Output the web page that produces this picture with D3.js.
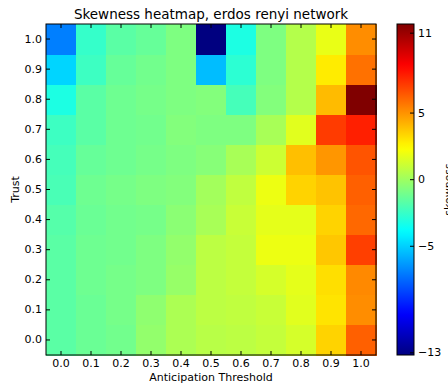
<!DOCTYPE html>
<html>
<head>
<meta charset="utf-8">
<script src="https://cdn.jsdelivr.net/npm/d3@7"></script>
<style>
  body { margin: 0; background: #fff; }
  text { font-family: "DejaVu Sans", sans-serif; }
</style>
</head>
<body>
<div id="chart"></div>
<script>
// ============================
// Data
// ============================

const thresholds = [0.0, 0.1, 0.2, 0.3, 0.4, 0.5, 0.6, 0.7, 0.8, 0.9, 1.0];
const trusts = [0.0, 0.1, 0.2, 0.3, 0.4, 0.5, 0.6, 0.7, 0.8, 0.9, 1.0];

// skewness, one row per trust value (row 0 = trust 0.0), columns = thresholds
const skew = [
  [-1.7, -1.3, -1.1, -0.3,  0.3,  0.6,  0.7,  0.9,  1.3,  3.4,  6.2],
  [-1.7, -1.3, -1.0, -0.4,  0.3,  0.7,  0.8,  1.0,  1.6,  3.0,  5.1],
  [-1.7, -1.2, -1.0, -0.8, -0.2,  0.7,  0.9,  1.3,  1.7,  3.1,  5.2],
  [-1.7, -1.2, -1.1, -0.8, -0.3,  0.7,  0.9,  1.9,  1.9,  3.7,  7.0],
  [-1.8, -1.3, -1.1, -1.0, -0.5,  0.2,  1.0,  1.7,  1.7,  3.4,  6.0],
  [-2.1, -1.2, -1.0, -0.8, -0.7,  0.1,  0.8,  1.9,  3.4,  3.8,  6.2],
  [-2.2, -1.4, -1.2, -1.0, -0.8, -0.6,  0.2,  1.1,  3.9,  4.9,  6.5],
  [-2.4, -1.7, -1.2, -1.1, -0.7, -0.8, -0.8,  0.2,  1.6,  7.1,  7.8],
  [-3.2, -1.7, -1.2, -1.0, -0.8, -0.7, -2.2, -0.7,  0.5,  4.0, 11.65],
  [-4.9, -2.4, -1.4, -1.1, -0.8, -5.5, -2.8, -0.8,  0.5,  2.8,  5.8],
  [-7.0, -2.6, -1.7, -1.4, -0.8, -13.2, -3.2, -0.8, 0.5,  1.8,  5.1]
];

const cbarTicks = [-13, -5, 0, 5, 11];

// ============================
// Setup
// ============================

const width = 448, height = 385;
const margin = {top: 24, left: 46};
const plotW = 330, plotH = 331;

const svg = d3.select("#chart").append("svg")
  .attr("width", width).attr("height", height);

// matplotlib "jet"
function jet(t) {
  const c = (x) => Math.max(0, Math.min(1, x));
  const r = c(Math.min(4 * t - 1.5, -4 * t + 4.5));
  const g = c(Math.min(4 * t - 0.5, -4 * t + 3.5));
  const b = c(Math.min(4 * t + 0.5, -4 * t + 2.5));
  return d3.rgb(r * 255, g * 255, b * 255).toString();
}

const vmin = d3.min(skew.flat()), vmax = d3.max(skew.flat());
const norm = d3.scaleLinear().domain([vmin, vmax]).range([0, 1]).clamp(true);
const color = (v) => jet(norm(v));

const xscale = d3.scaleBand().domain(thresholds).range([margin.left, margin.left + plotW]);
const yscale = d3.scaleBand().domain(trusts).range([margin.top + plotH, margin.top]);

const cells = [];
skew.forEach((row, i) => row.forEach((v, j) => cells.push({x: thresholds[j], y: trusts[i], v: v})));

svg.append("g")
  .selectAll("rect")
  .data(cells)
  .join("rect")
  .attr("x", d => xscale(d.x))
  .attr("y", d => yscale(d.y))
  .attr("width", xscale.bandwidth() + 0.5)
  .attr("height", yscale.bandwidth() + 0.5)
  .attr("shape-rendering", "crispEdges")
  .attr("fill", d => color(d.v));

// frame
svg.append("rect")
  .attr("x", margin.left).attr("y", margin.top)
  .attr("width", plotW).attr("height", plotH)
  .attr("fill", "none").attr("stroke", "#000").attr("stroke-width", 1);

const fmt = d3.format(".1f");

// axes, ticks pointing inward
svg.append("g")
  .attr("transform", `translate(0,${margin.top + plotH})`)
  .call(d3.axisBottom(xscale).tickFormat(fmt).tickSizeInner(-4).tickSizeOuter(0).tickPadding(4))
  .call(g => g.select(".domain").remove());
svg.append("g")
  .attr("transform", `translate(0,${margin.top})`)
  .call(d3.axisTop(xscale).tickFormat("").tickSizeInner(-4).tickSizeOuter(0))
  .call(g => g.select(".domain").remove());
svg.append("g")
  .attr("transform", `translate(${margin.left},0)`)
  .call(d3.axisLeft(yscale).tickFormat(fmt).tickSizeInner(-4).tickSizeOuter(0).tickPadding(4))
  .call(g => g.select(".domain").remove());
svg.append("g")
  .attr("transform", `translate(${margin.left + plotW},0)`)
  .call(d3.axisRight(yscale).tickFormat("").tickSizeInner(-4).tickSizeOuter(0))
  .call(g => g.select(".domain").remove());

svg.selectAll(".tick text").attr("font-size", 11).attr("fill", "#000")
  .attr("font-family", "DejaVu Sans, sans-serif");

// labels
svg.append("text")
  .attr("x", margin.left + plotW / 2).attr("y", 19)
  .attr("text-anchor", "middle").attr("font-size", 13.5)
  .text("Skewness heatmap, erdos renyi network");

svg.append("text")
  .attr("x", margin.left + plotW / 2).attr("y", 381)
  .attr("text-anchor", "middle").attr("font-size", 11)
  .text("Anticipation Threshold");

svg.append("text")
  .attr("transform", `translate(19,${margin.top + plotH / 2}) rotate(-90)`)
  .attr("text-anchor", "middle").attr("font-size", 11)
  .text("Trust");

// ============================
// Colorbar
// ============================

const cb = {x: 397, y: 24, w: 17, h: 331};
const defs = svg.append("defs");
const grad = defs.append("linearGradient").attr("id", "jetgrad")
  .attr("x1", 0).attr("y1", 1).attr("x2", 0).attr("y2", 0);
d3.range(0, 1.0001, 0.02).forEach(t => {
  grad.append("stop").attr("offset", t).attr("stop-color", jet(t));
});

svg.append("rect")
  .attr("x", cb.x).attr("y", cb.y).attr("width", cb.w).attr("height", cb.h)
  .attr("fill", "url(#jetgrad)").attr("stroke", "#000").attr("stroke-width", 1);

const cscale = d3.scaleLinear().domain([vmin, vmax]).range([cb.y + cb.h, cb.y]);
svg.append("g")
  .attr("transform", `translate(${cb.x + cb.w},0)`)
  .call(d3.axisRight(cscale).tickValues(cbarTicks).tickFormat(d => d < 0 ? "\u2212" + Math.abs(d) : d)
    .tickSizeInner(-4).tickSizeOuter(0).tickPadding(4))
  .call(g => g.select(".domain").remove())
  .call(g => g.selectAll("text").attr("font-size", 11).attr("fill", "#000")
    .attr("font-family", "DejaVu Sans, sans-serif"));

svg.append("text")
  .attr("transform", `translate(452,${cb.y + cb.h / 2}) rotate(-90)`)
  .attr("text-anchor", "middle").attr("font-size", 11)
  .text("skewness");
</script>
</body>
</html>
